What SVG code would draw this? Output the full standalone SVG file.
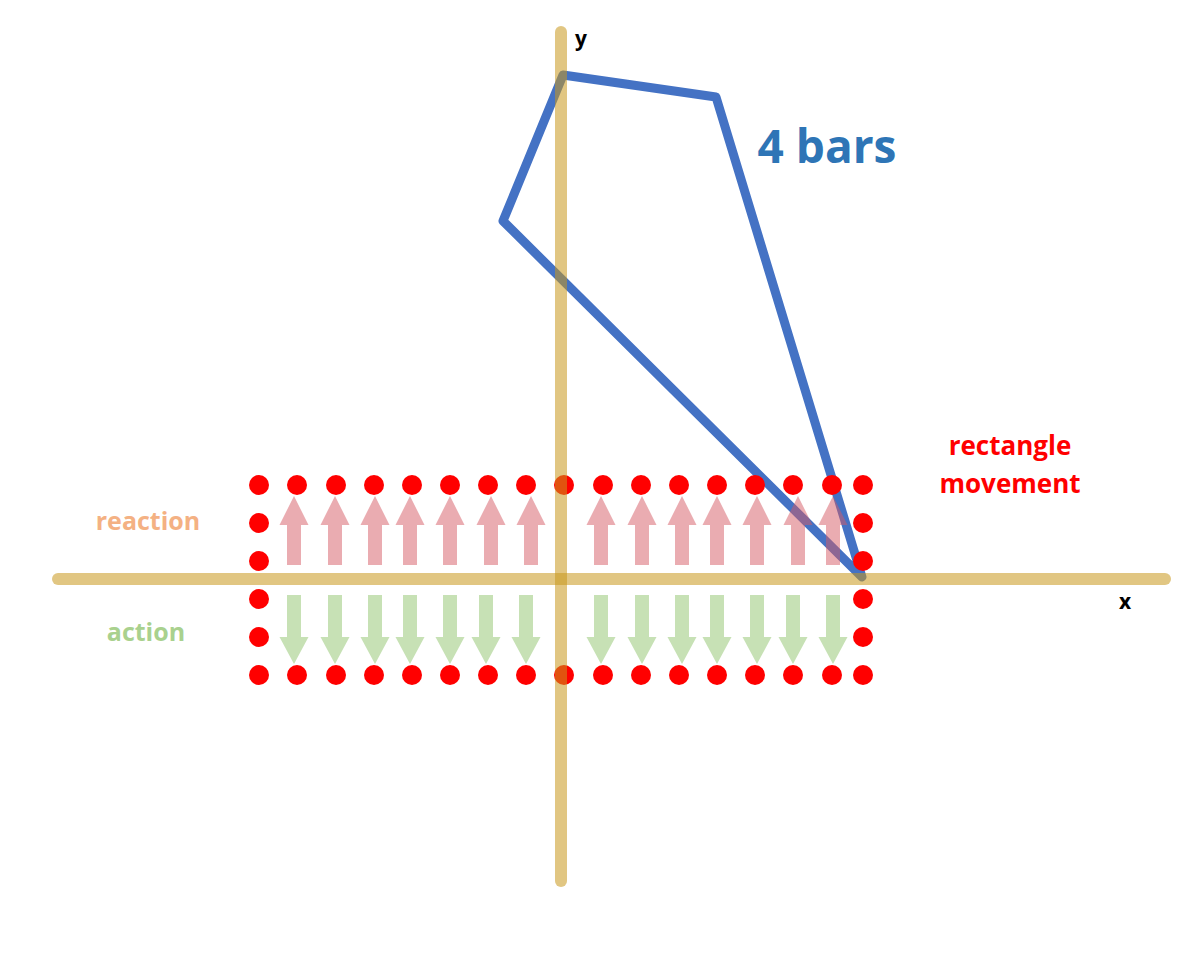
<svg xmlns="http://www.w3.org/2000/svg" width="1200" height="959" viewBox="0 0 1200 959">
<style>
.axis{stroke:rgb(201,151,27);stroke-opacity:0.55;stroke-width:12;stroke-linecap:round;fill:none}
.dot{fill:#FF0000}
.up{fill:#D65A63;fill-opacity:0.5}
.down{fill:#A9D18E;fill-opacity:0.65}
.bar{fill:none;stroke:#4472C4;stroke-width:9;stroke-linejoin:round;stroke-linecap:round}
.lbl{font-family:"Open Sans","Liberation Sans",sans-serif;font-weight:bold}
</style>
<defs>
<path id="upA" d="M0,-69 L14.5,-40 L7,-40 L7,0 L-7,0 L-7,-40 L-14.5,-40 Z"/>
<path id="dnA" d="M-7,0 L7,0 L7,42 L14.5,42 L0,69 L-14.5,42 L-7,42 Z"/>
</defs>
<rect width="1200" height="959" fill="#FFFFFF"/>
<g id="bars">
<polygon class="bar" points="563,75 716,97 862,577 503,221"/>
</g>
<g id="dots">
<g id="top-row">
<circle class="dot" cx="259" cy="485" r="10"/><circle class="dot" cx="297" cy="485" r="10"/><circle class="dot" cx="336" cy="485" r="10"/><circle class="dot" cx="374" cy="485" r="10"/><circle class="dot" cx="412" cy="485" r="10"/><circle class="dot" cx="450" cy="485" r="10"/><circle class="dot" cx="488" cy="485" r="10"/><circle class="dot" cx="526" cy="485" r="10"/><circle class="dot" cx="564" cy="485" r="10"/><circle class="dot" cx="603" cy="485" r="10"/><circle class="dot" cx="641" cy="485" r="10"/><circle class="dot" cx="679" cy="485" r="10"/><circle class="dot" cx="717" cy="485" r="10"/><circle class="dot" cx="755" cy="485" r="10"/><circle class="dot" cx="793" cy="485" r="10"/><circle class="dot" cx="832" cy="485" r="10"/><circle class="dot" cx="863" cy="485" r="10"/>
</g>
<g id="bottom-row">
<circle class="dot" cx="259" cy="675" r="10"/><circle class="dot" cx="297" cy="675" r="10"/><circle class="dot" cx="336" cy="675" r="10"/><circle class="dot" cx="374" cy="675" r="10"/><circle class="dot" cx="412" cy="675" r="10"/><circle class="dot" cx="450" cy="675" r="10"/><circle class="dot" cx="488" cy="675" r="10"/><circle class="dot" cx="526" cy="675" r="10"/><circle class="dot" cx="564" cy="675" r="10"/><circle class="dot" cx="603" cy="675" r="10"/><circle class="dot" cx="641" cy="675" r="10"/><circle class="dot" cx="679" cy="675" r="10"/><circle class="dot" cx="717" cy="675" r="10"/><circle class="dot" cx="755" cy="675" r="10"/><circle class="dot" cx="793" cy="675" r="10"/><circle class="dot" cx="832" cy="675" r="10"/><circle class="dot" cx="863" cy="675" r="10"/>
</g>
<g id="side-cols">
<circle class="dot" cx="259" cy="523" r="10"/><circle class="dot" cx="259" cy="561" r="10"/><circle class="dot" cx="259" cy="599" r="10"/><circle class="dot" cx="259" cy="637" r="10"/>
<circle class="dot" cx="863" cy="523" r="10"/><circle class="dot" cx="863" cy="561" r="10"/><circle class="dot" cx="863" cy="599" r="10"/><circle class="dot" cx="863" cy="637" r="10"/>
</g>
</g>
<g id="reaction-arrows">
<use href="#upA" class="up" x="294" y="565"/><use href="#upA" class="up" x="335" y="565"/><use href="#upA" class="up" x="375" y="565"/><use href="#upA" class="up" x="410" y="565"/><use href="#upA" class="up" x="450" y="565"/><use href="#upA" class="up" x="491" y="565"/><use href="#upA" class="up" x="531" y="565"/>
<use href="#upA" class="up" x="601" y="565"/><use href="#upA" class="up" x="642" y="565"/><use href="#upA" class="up" x="682" y="565"/><use href="#upA" class="up" x="717" y="565"/><use href="#upA" class="up" x="757" y="565"/><use href="#upA" class="up" x="798" y="565"/><use href="#upA" class="up" x="833" y="565"/>
</g>
<g id="action-arrows">
<use href="#dnA" class="down" x="294" y="595"/><use href="#dnA" class="down" x="335" y="595"/><use href="#dnA" class="down" x="375" y="595"/><use href="#dnA" class="down" x="410" y="595"/><use href="#dnA" class="down" x="450" y="595"/><use href="#dnA" class="down" x="486" y="595"/><use href="#dnA" class="down" x="526" y="595"/>
<use href="#dnA" class="down" x="601" y="595"/><use href="#dnA" class="down" x="642" y="595"/><use href="#dnA" class="down" x="682" y="595"/><use href="#dnA" class="down" x="717" y="595"/><use href="#dnA" class="down" x="757" y="595"/><use href="#dnA" class="down" x="793" y="595"/><use href="#dnA" class="down" x="833" y="595"/>
</g>
<g id="axes">
<line class="axis" x1="58" y1="579" x2="1165" y2="579"/>
<line class="axis" x1="561" y1="32" x2="561" y2="881"/>
</g>
<g id="labels">
<text class="lbl" x="581" y="46" font-size="21" fill="#000000" text-anchor="middle">y</text>
<text class="lbl" x="1125" y="609" font-size="21" fill="#000000" text-anchor="middle">x</text>
<text class="lbl" x="827" y="163" font-size="46" fill="#2E75B6" text-anchor="middle">4 bars</text>
<text class="lbl" x="1010" y="455" font-size="26" fill="#FF0000" text-anchor="middle">rectangle</text>
<text class="lbl" x="1010" y="493" font-size="26" fill="#FF0000" text-anchor="middle">movement</text>
<text class="lbl" x="148" y="530" font-size="25" fill="#F4B183" text-anchor="middle">reaction</text>
<text class="lbl" x="146" y="641" font-size="25" fill="#A9D18E" text-anchor="middle">action</text>
</g>
</svg>
